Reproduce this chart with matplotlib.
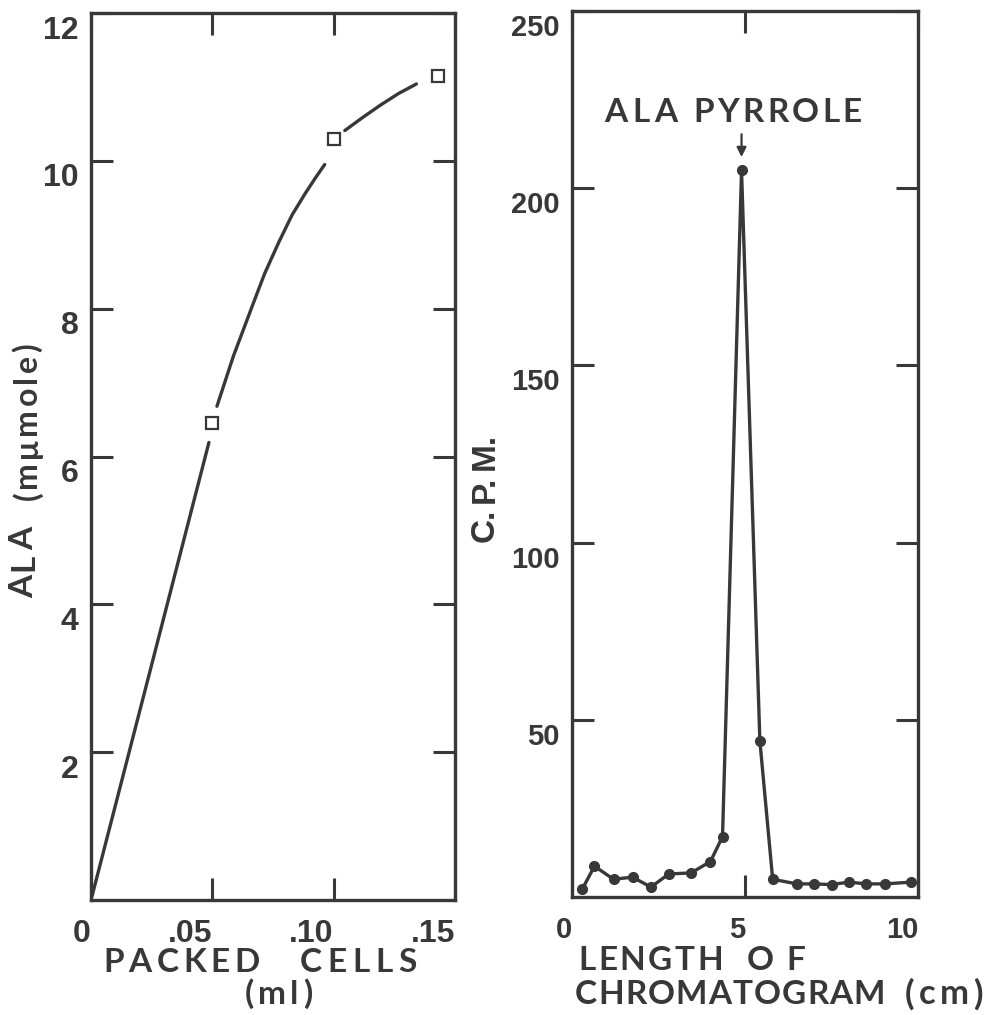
import matplotlib
matplotlib.use('Agg')
import matplotlib.pyplot as plt
import matplotlib.transforms as mtransforms

INK = '#383838'
W, H = 988, 1015

# Left panel: ALA formed vs packed cells
cells_ml = [0.05, 0.10, 0.143]
ala_mumole = [6.45, 10.3, 11.15]

# hand-drawn fit curve in three pieces (gaps at markers)
fit_low_x = [0.0004, 0.0486]
fit_low_y = [0.05, 6.19]
fit_mid_x = [0.0519, 0.0587, 0.0672, 0.0715, 0.0774, 0.0829, 0.0883,
             0.0925, 0.0963]
fit_mid_y = [6.68, 7.36, 8.10, 8.47, 8.90, 9.27, 9.56, 9.77, 9.95]
fit_top_x = [0.1046, 0.1121, 0.1191, 0.1267, 0.1341]
fit_top_y = [10.41, 10.59, 10.75, 10.91, 11.04]

left_xticks = [0, 0.05, 0.10, 0.15]
left_xlabels = ['0', '.05', '.10', '.15']
left_yticks = [2, 4, 6, 8, 10, 12]

# Right panel: radioactivity along the chromatogram
length_cm = [0.3, 0.65, 1.2, 1.75, 2.28, 2.8, 3.44, 4.0, 4.35, 4.9, 5.43,
             5.8, 6.5, 7.0, 7.5, 8.0, 8.5, 9.05, 9.8]
cpm = [2.3, 8.7, 5.0, 5.6, 2.8, 6.5, 6.8, 10.0, 17.0, 205, 44, 5.0,
       3.7, 3.7, 3.5, 4.2, 3.7, 3.7, 4.2]

right_xticks = [0, 5, 10]
right_yticks = [50, 100, 150, 200, 250]

TICK_FONT = ['Liberation Sans', 'DejaVu Sans']
LABEL_FONT = ['Lato', 'DejaVu Sans']

fig = plt.figure(figsize=(W / 100, H / 100), dpi=100)
ax1 = fig.add_axes([91 / W, 1 - 900 / H, (455 - 91) / W, (900 - 13) / H])
ax2 = fig.add_axes([572 / W, 1 - 897 / H, (918 - 572) / W, (897 - 11) / H])


def style_axes(ax, size):
    for sp in ax.spines.values():
        sp.set_linewidth(2.4)
        sp.set_color(INK)
    ax.tick_params(direction='in', length=16, width=2.2, color=INK,
                   top=True, right=True, labelsize=size, labelcolor=INK)
    ax.tick_params(axis='x', pad=14)
    ax.tick_params(axis='y', pad=9)
    for lab in ax.get_xticklabels() + ax.get_yticklabels():
        lab.set_fontfamily(TICK_FONT)
        lab.set_fontweight('bold')
    for lab in ax.get_xticklabels():
        lab.set_horizontalalignment('right')
    # labels in the original sit a bit below their ticks
    shift = mtransforms.ScaledTranslation(0, -0.14, fig.dpi_scale_trans)
    for lab in ax.get_yticklabels():
        lab.set_transform(lab.get_transform() + shift)


# left panel
for xs, ys in [(fit_low_x, fit_low_y), (fit_mid_x, fit_mid_y),
               (fit_top_x, fit_top_y)]:
    ax1.plot(xs, ys, color=INK, lw=2.4, solid_capstyle='round',
             solid_joinstyle='round')
ax1.plot(cells_ml, ala_mumole, ls='none', marker='s', ms=9,
         mfc='white', mec=INK, mew=1.6)
ax1.set_xlim(0, 0.15)
ax1.set_ylim(0, 12)
ax1.set_xticks(left_xticks)
ax1.set_xticklabels(left_xlabels)
ax1.set_yticks(left_yticks)
ax1.set_yticklabels([str(v) for v in left_yticks])
style_axes(ax1, 23)

# right panel
ax2.plot(length_cm, cpm, color=INK, lw=2.4, marker='o', ms=7,
         mfc=INK, mec=INK)
ax2.annotate('', xy=(4.9, 208), xytext=(4.9, 216),
             arrowprops=dict(arrowstyle='-|>', color=INK, lw=1.6,
                             mutation_scale=14))
ax2.set_xlim(0, 10)
ax2.set_ylim(0, 250)
ax2.set_xticks(right_xticks)
ax2.set_xticklabels([str(v) for v in right_xticks])
ax2.set_yticks(right_yticks)
ax2.set_yticklabels([str(v) for v in right_yticks])
style_axes(ax2, 21)

renderer = fig.canvas.get_renderer()


def spaced(tokens, start, end, pos, size=24, vertical=False,
           family=LABEL_FONT):
    """Spread letters (pixel coords from the top-left) evenly between start
    and end, to copy the wide letter spacing of the original lettering."""
    kw = dict(fontsize=size, fontweight='bold', family=family, color=INK)
    arts, sizes = [], []
    for tok in tokens:
        t = fig.text(0, 0, tok, rotation=90 if vertical else 0, **kw)
        bb = t.get_window_extent(renderer=renderer)
        arts.append(t)
        sizes.append(bb.height if vertical else bb.width)
    gap = (abs(end - start) - sum(sizes)) / max(len(tokens) - 1, 1)
    cur = start
    for t, s in zip(arts, sizes):
        if vertical:
            t.set_position((pos / W, 1 - cur / H))
            t.set_ha('center')
            t.set_va('bottom')
            cur -= s + gap
        else:
            t.set_position((cur / W, 1 - pos / H))
            t.set_ha('left')
            t.set_va('center')
            cur += s + gap


# left axis titles
spaced('PACKED', 103, 260, 963)
spaced('CELLS', 300, 417, 963)
spaced('(ml)', 245, 312, 994, size=24)
spaced('ALA', 598, 527, 24, vertical=True)
spaced('(m\u03bcmole)', 500, 343, 27, size=23, vertical=True)

# right axis titles
spaced('LENGTH', 578, 723, 960)
spaced('OF', 747, 805, 960)
spaced('CHROMATOGRAM', 575, 885, 995)
spaced('(cm)', 905, 983, 994, size=25)
spaced(['C.', 'P.', 'M.'], 542, 433, 485, size=24, vertical=True,
       family=TICK_FONT)

# peak label
spaced('ALA', 604, 677, 113)
spaced('PYRROLE', 693, 862, 113)

fig.savefig('out.png', dpi=100, facecolor='white')
